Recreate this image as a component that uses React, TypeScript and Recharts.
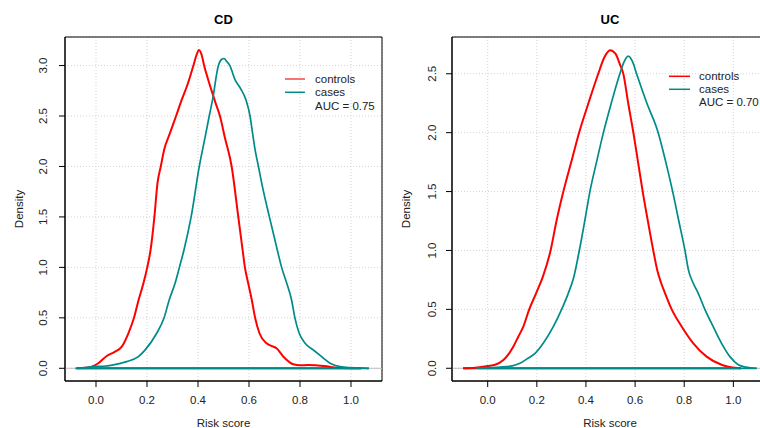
import { CartesianGrid, Line, LineChart, ReferenceArea, ReferenceLine, XAxis, YAxis } from "recharts";

const FONT = '"Liberation Sans", Arial, Helvetica, sans-serif';

const xTicks = [0, 0.2, 0.4, 0.6, 0.8, 1.0];
const cdYTicks = [0, 0.5, 1, 1.5, 2, 2.5, 3];
const ucYTicks = [0, 0.5, 1, 1.5, 2, 2.5];

// density estimates: [risk score, density]
const cdControls: [number, number][] = [
  [-0.075, 0], [-0.04, 0.005], [-0.017, 0.016], [0.009, 0.05], [0.042, 0.122], [0.075, 0.165],
  [0.101, 0.214], [0.127, 0.347], [0.149, 0.5], [0.167, 0.677], [0.186, 0.842], [0.201, 1.0],
  [0.214, 1.172], [0.229, 1.5], [0.241, 1.833], [0.254, 2.0], [0.267, 2.164], [0.29, 2.33],
  [0.314, 2.5], [0.336, 2.66], [0.36, 2.82], [0.382, 3.0], [0.395, 3.11], [0.404, 3.155],
  [0.415, 3.1], [0.424, 3.0], [0.44, 2.86], [0.456, 2.73], [0.47, 2.62], [0.486, 2.5],
  [0.506, 2.28], [0.532, 2.0], [0.558, 1.5], [0.575, 1.172], [0.584, 1.0], [0.597, 0.842],
  [0.611, 0.677], [0.624, 0.5], [0.641, 0.347], [0.669, 0.248], [0.69, 0.22], [0.708, 0.198],
  [0.735, 0.115], [0.774, 0.04], [0.8, 0.03], [0.83, 0.032], [0.86, 0.03], [0.904, 0.02],
  [0.944, 0.005], [1.04, 0],
];
const cdCases: [number, number][] = [
  [-0.08, 0], [-0.04, 0.008], [0.0, 0.018], [0.03, 0.02], [0.068, 0.033], [0.12, 0.066],
  [0.166, 0.115], [0.192, 0.18], [0.238, 0.347], [0.267, 0.5], [0.287, 0.677], [0.31, 0.842],
  [0.327, 1.0], [0.345, 1.172], [0.373, 1.5], [0.405, 2.0], [0.431, 2.33], [0.444, 2.5],
  [0.457, 2.66], [0.48, 3.0], [0.492, 3.06], [0.502, 3.07], [0.513, 3.04], [0.525, 3.0],
  [0.545, 2.86], [0.565, 2.78], [0.588, 2.66], [0.604, 2.5], [0.614, 2.33], [0.624, 2.164],
  [0.637, 2.0], [0.65, 1.833], [0.68, 1.5], [0.711, 1.172], [0.728, 1.0], [0.748, 0.842],
  [0.767, 0.677], [0.78, 0.5], [0.797, 0.347], [0.82, 0.248], [0.853, 0.18], [0.885, 0.115],
  [0.918, 0.05], [0.957, 0.016], [1.0, 0.006], [1.07, 0],
];
const ucControls: [number, number][] = [
  [-0.1, 0], [-0.05, 0.005], [0.0, 0.02], [0.03, 0.03], [0.064, 0.07], [0.085, 0.12], [0.104, 0.183],
  [0.125, 0.27], [0.145, 0.353], [0.169, 0.5], [0.197, 0.636], [0.225, 0.78], [0.256, 1.0],
  [0.28, 1.25], [0.308, 1.5], [0.34, 1.75], [0.372, 2.0], [0.41, 2.25], [0.45, 2.5], [0.475, 2.64],
  [0.498, 2.7], [0.52, 2.67], [0.538, 2.58], [0.552, 2.5], [0.572, 2.25], [0.593, 2.0],
  [0.612, 1.75], [0.631, 1.5], [0.652, 1.25], [0.674, 1.0], [0.69, 0.835], [0.705, 0.73],
  [0.722, 0.636], [0.749, 0.5], [0.79, 0.353], [0.837, 0.212], [0.891, 0.099], [0.952, 0.03],
  [0.99, 0.008], [1.03, 0],
];
const ucCases: [number, number][] = [
  [-0.045, 0], [0.0, 0.005], [0.05, 0.01], [0.1, 0.02], [0.131, 0.042], [0.16, 0.08], [0.193, 0.127],
  [0.226, 0.212], [0.267, 0.353], [0.301, 0.5], [0.328, 0.636], [0.35, 0.77], [0.373, 1.0],
  [0.395, 1.25], [0.416, 1.5], [0.443, 1.75], [0.471, 2.0], [0.503, 2.25], [0.538, 2.5],
  [0.555, 2.6], [0.572, 2.65], [0.59, 2.6], [0.606, 2.5], [0.648, 2.25], [0.694, 2.0],
  [0.725, 1.75], [0.753, 1.5], [0.778, 1.25], [0.803, 1.0], [0.817, 0.835], [0.835, 0.73],
  [0.857, 0.636], [0.884, 0.5], [0.918, 0.353], [0.952, 0.212], [0.986, 0.099], [1.02, 0.03],
  [1.05, 0.01], [1.095, 0],
];

const legendLabels = ["controls", "cases"];
const aucLabels = ["AUC = 0.75", "AUC = 0.70"];
const titles = ["CD", "UC"];

const toPoints = (pts: [number, number][]) => pts.map(([x, y]) => ({ x, y }));
// the density polygon closes along the baseline
const toBase = (pts: [number, number][]) => [
  { x: pts[0][0], y: 0 },
  { x: pts[pts.length - 1][0], y: 0 },
];

const YTick = (props: any) => {
  const { x, y, payload, off } = props;
  return (
    <g transform={`translate(${x + off},${y}) rotate(-90)`}>
      <text textAnchor="middle" dy="0.35em" fontSize={11.5} fill="#222" fontFamily={FONT}>
        {Number(payload.value).toFixed(1)}
      </text>
    </g>
  );
};

function Panel(props: any) {
  const { controls, cases, xDomain, yDomain, yTicks, yAxisWidth, width, rightMargin, off } = props;
  const common = { dataKey: "y", dot: false, activeDot: false, isAnimationActive: false };
  return (
    <LineChart width={width} height={428} margin={{ top: 37, right: rightMargin, bottom: 0, left: 0 }}>
      <CartesianGrid stroke="#d3d3d3" strokeDasharray="1 2" />
      <XAxis
        type="number"
        dataKey="x"
        domain={xDomain}
        ticks={xTicks}
        allowDataOverflow
        height={47}
        tickSize={6}
        tickMargin={9}
        tick={{ fontSize: 11.5, fill: "#222", fontFamily: FONT }}
        tickFormatter={(v: number) => v.toFixed(1)}
        axisLine={{ stroke: "#000" }}
        tickLine={{ stroke: "#000" }}
      />
      <YAxis
        type="number"
        domain={yDomain}
        ticks={yTicks}
        allowDataOverflow
        width={yAxisWidth}
        tickSize={6}
        tick={(p: any) => <YTick {...p} off={off} />}
        axisLine={{ stroke: "#000" }}
        tickLine={{ stroke: "#000" }}
      />
      <ReferenceLine y={0} stroke="#bebebe" strokeWidth={1} />
      <Line {...common} data={toBase(controls)} type="linear" stroke="#ff0000" strokeWidth={2} />
      <Line {...common} data={toPoints(controls)} type="monotone" stroke="#ff0000" strokeWidth={2} />
      <Line {...common} data={toBase(cases)} type="linear" stroke="#008b8b" strokeWidth={1.7} />
      <Line {...common} data={toPoints(cases)} type="monotone" stroke="#008b8b" strokeWidth={1.7} />
      <ReferenceArea
        x1={xDomain[0]}
        x2={xDomain[1]}
        y1={yDomain[0]}
        y2={yDomain[1]}
        fill="none"
        fillOpacity={0}
        stroke="#000"
        strokeOpacity={1}
      />
    </LineChart>
  );
}

export default function App() {
  return (
    <div style={{ position: "absolute", left: 0, top: 0, width: 760, height: 428, overflow: "hidden", background: "#fff" }}>
      <div style={{ position: "absolute", left: 0, top: 0 }}>
        <Panel
          controls={cdControls}
          cases={cdCases}
          xDomain={[-0.1216, 1.1216]}
          yDomain={[-0.126, 3.283]}
          yTicks={cdYTicks}
          yAxisWidth={65}
          width={390}
          rightMargin={8}
          off={-14}
        />
      </div>
      <div style={{ position: "absolute", left: 380, top: 0 }}>
        <Panel
          controls={ucControls}
          cases={ucCases}
          xDomain={[-0.1453, 1.141]}
          yDomain={[-0.108, 2.812]}
          yTicks={ucYTicks}
          yAxisWidth={72}
          width={400}
          rightMargin={12}
          off={-12}
        />
      </div>
      <svg width={760} height={428} style={{ position: "absolute", left: 0, top: 0, pointerEvents: "none" }} fontFamily={FONT}>
        <text x={223.5} y={23.5} textAnchor="middle" fontSize={13} fontWeight="bold" fill="#000">{titles[0]}</text>
        <text x={610} y={23.5} textAnchor="middle" fontSize={13} fontWeight="bold" fill="#000">{titles[1]}</text>
        <text x={223.5} y={427} textAnchor="middle" fontSize={11.5} fill="#222">Risk score</text>
        <text x={610} y={427} textAnchor="middle" fontSize={11.5} fill="#222">Risk score</text>
        <g transform="translate(19,209) rotate(-90)">
          <text textAnchor="middle" dy="0.35em" fontSize={11.5} fill="#222">Density</text>
        </g>
        <g transform="translate(406,209) rotate(-90)">
          <text textAnchor="middle" dy="0.35em" fontSize={11.5} fill="#222">Density</text>
        </g>
        {/* CD legend */}
        <line x1={285} x2={305} y1={79} y2={79} stroke="#f87474" strokeWidth={2} />
        <line x1={285} x2={305} y1={92.3} y2={92.3} stroke="#008b8b" strokeWidth={1.5} />
        <text x={315} y={79} dy="0.35em" fontSize={11.5} fill="#222">{legendLabels[0]}</text>
        <text x={315} y={92.3} dy="0.35em" fontSize={11.5} fill="#222">{legendLabels[1]}</text>
        <text x={315} y={105.6} dy="0.35em" fontSize={11.5} fill="#222">{aucLabels[0]}</text>
        {/* UC legend */}
        <line x1={669} x2={690} y1={76.3} y2={76.3} stroke="#ff0000" strokeWidth={1.5} />
        <line x1={669} x2={690} y1={89.3} y2={89.3} stroke="#008b8b" strokeWidth={1.5} />
        <text x={699} y={76.3} dy="0.35em" fontSize={11.5} fill="#222">{legendLabels[0]}</text>
        <text x={699} y={89.3} dy="0.35em" fontSize={11.5} fill="#222">{legendLabels[1]}</text>
        <text x={699} y={102.3} dy="0.35em" fontSize={11.5} fill="#222">{aucLabels[1]}</text>
      </svg>
    </div>
  );
}
